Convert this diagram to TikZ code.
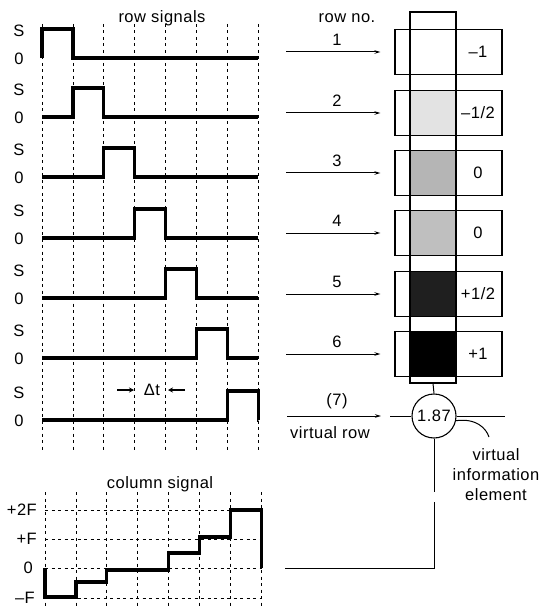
\documentclass[tikz,border=0pt]{standalone}
\usepackage{fontspec}
\setmainfont{Liberation Sans}[LetterSpace=3]
\usetikzlibrary{arrows.meta}
\begin{document}
\begin{tikzpicture}[x=1pt,y=-1pt,
  every node/.style={font=\fontsize{16.5}{19}\selectfont, inner sep=0pt},
  sig/.style={line width=3.2pt, line join=miter},
  gridline/.style={line width=0.8pt, dash pattern=on 3pt off 3.5pt},
  arr/.style={line width=1pt, -{Stealth[length=6pt,width=3.5pt]}},
  darr/.style={line width=1.6pt, -{Stealth[length=5pt,width=5pt]}},
  thin line/.style={line width=1pt},
  cellbox/.style={draw, line width=1.1pt, minimum width=46pt, minimum height=45pt},
  outerbox/.style={draw, line width=1.1pt, fill=white, minimum width=107pt, minimum height=45pt},
]
\useasboundingbox (0,0) rectangle (545,612);

% ---------- row signals ----------
\node (rowsig) at (162,18) {row signals};
\foreach \k in {0,...,7}{
  \draw[gridline] ({42+30.9*\k},24) -- ({42+30.9*\k},452);
}
\foreach \i/\z in {1/58,2/117,3/177,4/238,5/298,6/358,7/420}{
  \pgfmathsetmacro{\xa}{42+30.9*(\i-1)}
  \pgfmathsetmacro{\xb}{42+30.9*\i}
  \pgfmathsetmacro{\s}{\z-29}
  \draw[sig] (42,\z) -- (\xa,\z) -- (\xa,\s) -- (\xb,\s) -- (\xb,\z) -- (258.3,\z);
  \node (S\i) at (19,{\s+2}) {S};
  \node (Z\i) at (19,{\z+1}) {0};
}
% delta t
\coordinate (dl) at (117,390);
\coordinate (dlt) at (134,390);
\node (dt) at (152,390) {Δt};
\coordinate (drt) at (168,390);
\coordinate (dr) at (185,390);
\draw[darr] (dl) -- (dlt);
\draw[darr] (dr) -- (drt);

% ---------- column signal ----------
\node (colsig) at (160,484) {column signal};
\foreach \k in {0,...,7}{
  \draw[gridline] ({45+30.9*\k},492) -- ({45+30.9*\k},606);
}
\foreach \yy in {510,539,568,598}{
  \draw[gridline] (45,\yy) -- (262,\yy);
}
\node[anchor=east] (l2F) at (37,510) {+2F};
\node[anchor=east] (lF) at (37,539) {+F};
\node[anchor=east] (l0) at (33,568) {0};
\node[anchor=east] (lmF) at (35,598) {–F};
\draw[sig] (45,568) -- (45,597) -- (75.9,597) -- (75.9,582) -- (106.8,582) -- (106.8,570)
  -- (168.6,570) -- (168.6,553) -- (199.5,553) -- (199.5,537) -- (230.4,537) -- (230.4,510)
  -- (261.3,510) -- (261.3,568);

% ---------- right side ----------
\node (rowno) at (347,18) {row no.};
\node[draw, line width=1.1pt, minimum width=46pt, minimum height=371pt] (strip) at (433,197.5) {};
\foreach \i/\y/\sh/\v in {1/52/white/{–1}, 2/113/gray!22/{–1/2}, 3/173/gray!58/{0}, 4/233/gray!50/{0}, 5/294/black!88/{+1/2}, 6/354/black/{+1}}{
  \node[outerbox] (box\i) at (448.5,\y) {};
  \node[cellbox, fill=\sh] (cell\i) at (433,\y) {};
  \node (val\i) at (478,\y) {\v};
  \coordinate (a\i) at (286,\y);
  \draw[arr, shorten >=14pt] (a\i) -- (box\i.west);
  \node (n\i) at (337,{\y-12}) {\i};
}
% virtual row
\node[circle, draw, line width=1.1pt, minimum size=44pt] (c7) at (434,416) {1.87};
\draw[thin line] (strip.south) -- (c7.north);
\coordinate (hl) at (390,416);
\coordinate (hr) at (505,416);
\draw[thin line] (hl) -- (c7.west);
\draw[thin line] (c7.east) -- (hr);
\coordinate (a7) at (287,416);
\coordinate (e7) at (381,416);
\draw[arr] (a7) -- (e7);
\node (n7) at (337,401) {(7)};
\node (vrow) at (330,433) {virtual row};
\coordinate (lead) at (489,437);
\draw[thin line] (c7.-12) .. controls (476,418) and (486,428) .. (lead);
\node[align=center, font=\fontsize{16.5}{20}\selectfont] (vie) at (496,475) {virtual\\information\\element};
% column signal output line
\coordinate (o1) at (434,492);
\coordinate (o2) at (434,502);
\coordinate (o3) at (434,568);
\coordinate (o4) at (285,568);
\draw[thin line] (c7.south) -- (o1);
\draw[thin line] (o2) -- (o3) -- (o4);
\end{tikzpicture}
\end{document}
